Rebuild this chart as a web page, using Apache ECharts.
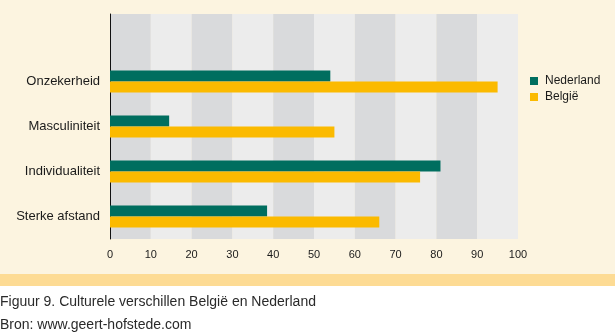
<!DOCTYPE html>
<html>
<head>
<meta charset="utf-8">
<script src="https://cdn.jsdelivr.net/npm/echarts@6/dist/echarts.min.js"></script>
<style>
html,body{margin:0;padding:0;background:#ffffff;}
#chart{width:615px;height:336px;}
</style>
</head>
<body>
<div id="chart"></div>
<script>
// Data
var categories = ['', 'Onzekerheid', 'Masculiniteit', 'Individualiteit', 'Sterke afstand'];
var seriesNames = ['Nederland', 'België'];
var nederland = ['-', 54, 14.5, 81, 38.5];
var belgie = ['-', 95, 55, 76, 66];
var xTicks = [0, 10, 20, 30, 40, 50, 60, 70, 80, 90, 100];
var captionLines = ['Figuur 9. Culturele verschillen België en Nederland', 'Bron: www.geert-hofstede.com'];

var chart = echarts.init(document.getElementById('chart'), null, {renderer: 'canvas'});
var font = '"Liberation Sans", Arial, sans-serif';

chart.setOption({
  animation: false,
  backgroundColor: '#ffffff',
  graphic: [
    {type: 'rect', z: -10, silent: true, shape: {x: 0, y: 0, width: 615, height: 274}, style: {fill: '#FCF4E0'}},
    {type: 'rect', z: -10, silent: true, shape: {x: 0, y: 274, width: 615, height: 12}, style: {fill: '#FDDB94'}},
    {type: 'text', left: 0, top: 295, style: {text: captionLines[0], font: '14px ' + font, fill: '#2a2a2a'}},
    {type: 'text', left: 0, top: 318, style: {text: captionLines[1], font: '14px ' + font, fill: '#2a2a2a'}}
  ],
  legend: {
    data: seriesNames,
    orient: 'vertical',
    left: 525,
    top: 70,
    icon: 'rect',
    itemWidth: 8,
    itemHeight: 8,
    itemGap: 4,
    textStyle: {fontFamily: font, fontSize: 12, color: '#1a1a1a', lineHeight: 12, padding: [0, 0, 0, 2]}
  },
  grid: {left: 110, top: 14, width: 408, height: 225, containLabel: false},
  xAxis: {
    type: 'value',
    min: xTicks[0],
    max: xTicks[xTicks.length - 1],
    interval: 10,
    axisLine: {show: false},
    axisTick: {show: false},
    splitLine: {show: false},
    splitArea: {show: true, areaStyle: {color: ['#D9DADC', '#ECECEC']}},
    axisLabel: {fontFamily: font, fontSize: 11, color: '#1a1a1a', margin: 10}
  },
  yAxis: {
    type: 'category',
    data: categories,
    inverse: true,
    axisLine: {show: true, lineStyle: {color: '#111111', width: 1}},
    axisTick: {show: false},
    axisLabel: {fontFamily: font, fontSize: 13, color: '#1a1a1a', margin: 10}
  },
  series: [
    {name: seriesNames[0], type: 'bar', data: nederland, barWidth: 11, barGap: '0%', itemStyle: {color: '#006E5F'}},
    {name: seriesNames[1], type: 'bar', data: belgie, barWidth: 11, barGap: '0%', itemStyle: {color: '#FBBA00'}}
  ]
});
</script>
</body>
</html>
